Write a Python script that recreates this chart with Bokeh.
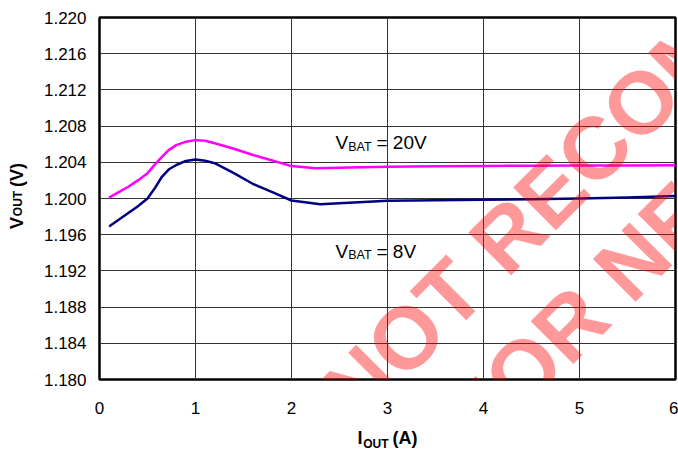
import math
from bokeh.plotting import figure
from bokeh.models import Label, FixedTicker, PrintfTickFormatter, LinearAxis
from bokeh.embed import file_html
from bokeh.resources import INLINE

# ---------------- data ----------------
x_ticks = [0, 1, 2, 3, 4, 5, 6]
y_ticks = [1.180, 1.184, 1.188, 1.192, 1.196, 1.200, 1.204, 1.208, 1.212, 1.216, 1.220]

iout_20v = [0.1, 0.2, 0.3, 0.4, 0.5, 0.58, 0.65, 0.72, 0.8, 0.9, 1.0, 1.1, 1.2, 1.4, 1.6,
            1.8, 2.0, 2.25, 2.6, 3.0, 3.5, 4.0, 4.5, 5.0, 5.5, 6.0]
vout_20v = [1.2001, 1.2007, 1.2013, 1.2020, 1.2028, 1.2038, 1.2046, 1.20535, 1.2059, 1.20628,
            1.20645, 1.20638, 1.2061, 1.2055, 1.2048, 1.2042, 1.20358, 1.20333, 1.20342, 1.2035,
            1.20355, 1.2036, 1.20362, 1.20364, 1.20366, 1.20368]

iout_8v = [0.1, 0.2, 0.3, 0.4, 0.5, 0.58, 0.65, 0.72, 0.8, 0.9, 1.0, 1.1, 1.2, 1.4, 1.6,
           1.8, 2.0, 2.3, 2.6, 3.0, 3.5, 4.0, 4.5, 5.0, 5.5, 6.0]
vout_8v = [1.1969, 1.19765, 1.1984, 1.19915, 1.2000, 1.2012, 1.2024, 1.2032, 1.2037, 1.20415,
           1.20432, 1.20418, 1.2039, 1.2028, 1.2016, 1.2007, 1.19978, 1.19936, 1.19954, 1.19976,
           1.1998, 1.19985, 1.19992, 1.2000, 1.20012, 1.20028]

FONT = "Liberation Sans"
NB = "\u00a0"

p = figure(width=678, height=453, x_range=(0, 6), y_range=(1.180, 1.220),
           output_backend="svg", toolbar_location=None,
           min_border_left=99, min_border_right=3, min_border_top=17, min_border_bottom=73)

p.background_fill_color = "white"
p.border_fill_color = "white"
p.outline_line_color = "black"
p.outline_line_width = 2.5


def style_axis(ax):
    ax.axis_line_color = None
    ax.major_tick_line_color = None
    ax.minor_tick_line_color = None
    ax.major_tick_out = 0
    ax.major_tick_in = 0
    ax.minor_tick_out = 0
    ax.minor_tick_in = 0
    ax.major_label_text_font = FONT
    ax.major_label_text_font_size = "17px"
    ax.major_label_text_color = "black"
    ax.axis_label_text_font = FONT
    ax.axis_label_text_font_style = "bold"
    ax.axis_label_text_color = "black"


xa, ya = p.xaxis[0], p.yaxis[0]
style_axis(xa)
style_axis(ya)

xa.ticker = FixedTicker(ticks=x_ticks)
ya.ticker = FixedTicker(ticks=y_ticks)
ya.formatter = PrintfTickFormatter(format="%.3f")
xa.major_label_standoff = 22
ya.major_label_standoff = 13

# main parts of the axis titles (subscripts are drawn by companion axes)
xa.axis_label = "I" + NB * 6 + "(A)"
xa.axis_label_text_font_size = "18px"
xa.axis_label_standoff = 11
ya.axis_label = NB + "V" + NB * 6 + "(V)"
ya.axis_label_text_font_size = "18px"
ya.axis_label_standoff = 14

xsub = LinearAxis(ticker=FixedTicker(ticks=[]), axis_label="OUT" + NB * 7,
                  axis_label_standoff=-14, major_label_standoff=0)
style_axis(xsub)
xsub.axis_label_text_font_size = "12px"
p.add_layout(xsub, "below")

ysub = LinearAxis(ticker=FixedTicker(ticks=[]), axis_label="OUT" + NB * 3,
                  axis_label_standoff=-21, major_label_standoff=0)
style_axis(ysub)
ysub.axis_label_text_font_size = "12px"
p.add_layout(ysub, "left")

p.xgrid.grid_line_color = "#333333"
p.ygrid.grid_line_color = "#333333"
p.xgrid.grid_line_width = 1
p.ygrid.grid_line_width = 1

p.line(iout_20v, vout_20v, line_color="#FF00FF", line_width=2.5, line_join="round")
p.line(iout_8v, vout_8v, line_color="#000080", line_width=2.5, line_join="round")


def ref(px, py):
    # reference pixel -> data position (layout helper for annotations)
    return (px - 99) / 96.0, 1.220 - (py - 17) * 0.04 / 363.0


SHIFT = 0.35  # empirical baseline correction, in em


def lab(xy, text, size, bold=False, dx=0.0, dy=0.0, angle=0.0, color="black", alpha=1.0, **kw):
    s = SHIFT * size
    lbl = Label(x=xy[0], y=xy[1], text=text,
                x_offset=dx - s * math.sin(angle), y_offset=dy + s * math.cos(angle),
                angle=angle, text_font=FONT, text_font_size=f"{size}px",
                text_font_style="bold" if bold else "normal",
                text_color=color, text_alpha=alpha,
                text_align="left", text_baseline="alphabetic", **kw)
    p.add_layout(lbl)
    return lbl


# curve annotations with white background
for txt, anchor in (("20V", ref(335, 149.3)), ("8V", ref(335, 258.3))):
    lab(anchor, "VBAT" + NB + "=" + NB + txt, 19, alpha=0.0,
        background_fill_color="white", background_fill_alpha=1.0, padding=4)
    lab(anchor, "V", 19)
    lab(anchor, "BAT", 12.5, dx=12.7, dy=-1.5)
    lab(anchor, "=" + NB + txt, 19, dx=41)

# watermark
lab(ref(358, 429), "NOT RECOMMENDED", 88, bold=True, angle=math.pi / 4, color="red", alpha=0.4)
lab(ref(482.5, 455.5), "FOR NEW DESIGNS", 88, bold=True, angle=math.pi / 4, color="red", alpha=0.4)

open("out.html", "w").write(file_html(p, INLINE))
